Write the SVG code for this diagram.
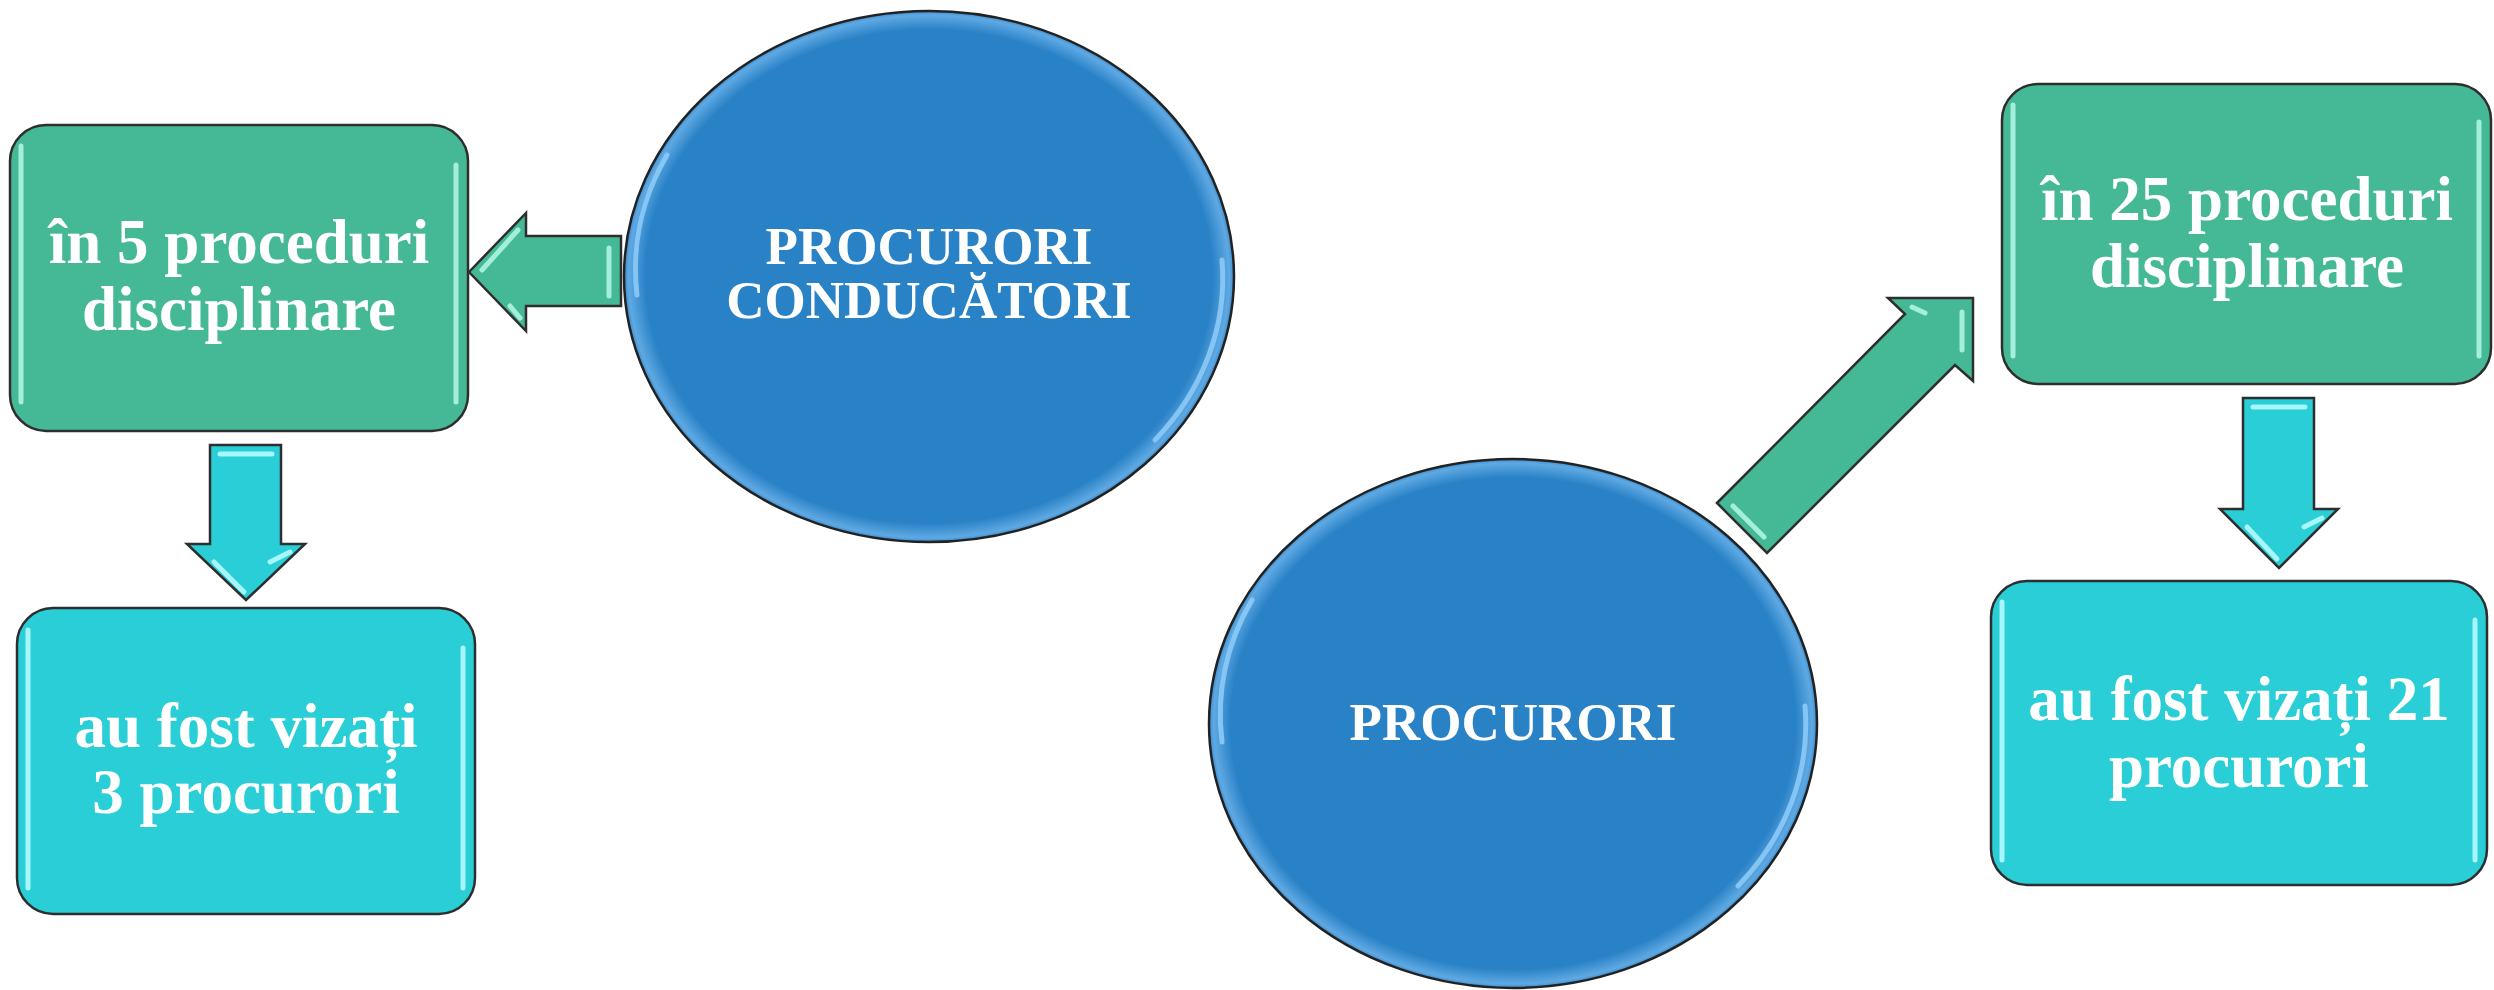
<svg xmlns="http://www.w3.org/2000/svg" width="2494" height="990" viewBox="0 0 2494 990">
<style>
.box{stroke:#2e2e2e;stroke-width:2.5}
.green{fill:#45b996}
.cyan{fill:#29ced6}
.oval{fill:url(#blueGrad);stroke:#222;stroke-width:2.5}
.arrG{fill:#45b996;stroke:#2e2e2e;stroke-width:2.5;stroke-linejoin:miter}
.arrC{fill:#29ced6;stroke:#2e2e2e;stroke-width:2.5;stroke-linejoin:miter}
.hlG{fill:none;stroke:#aef5e2;stroke-width:5;stroke-linecap:round;opacity:0.9}
.hlC{fill:none;stroke:#b4fbff;stroke-width:5;stroke-linecap:round;opacity:0.9}
.hlB{fill:none;stroke:#8ccaf7;stroke-width:5;stroke-linecap:round;opacity:0.9}
.t{font-family:"Liberation Serif","Times New Roman",serif;font-weight:bold;fill:#ffffff;text-anchor:middle}
.tb{font-size:63px}
.to{font-size:53px}
</style>
<defs>
<radialGradient id="blueGrad" cx="50%" cy="50%" r="50%">
<stop offset="0" stop-color="#2a82c6"/>
<stop offset="0.93" stop-color="#2a82c6"/>
<stop offset="0.985" stop-color="#5fa9e3"/>
<stop offset="1" stop-color="#3a8cce"/>
</radialGradient>
</defs>

<g id="connectors">
<g id="arrow-left">
<polygon class="arrG" points="469,272 526,213 526,236 621,236 621,306 526,306 526,331"/>
<path class="hlG" d="M609,248 L609,296"/>
<path class="hlG" d="M518,230 L482,270" stroke-width="3"/>
<path class="hlG" d="M520,318 L510,306" stroke-width="3"/>
</g>
<g id="arrow-down-left">
<polygon class="arrC" points="210,445 281,445 281,544 305,544 246,600 187,544 210,544"/>
<path class="hlC" d="M220,454 L272,454" stroke-width="4"/>
<path class="hlC" d="M214,562 L244,592" stroke-width="3"/>
<path class="hlC" d="M270,562 L290,552" stroke-width="3"/>
</g>
<g id="arrow-diagonal">
<polygon class="arrG" points="1717,503 1905,314 1888,298 1973,298 1973,381 1955,365 1767,553"/>
<path class="hlG" d="M1733,506 L1764,537" stroke-width="4"/>
<path class="hlG" d="M1962,312 L1962,350" stroke-width="4"/>
<path class="hlG" d="M1912,307 L1925,313" stroke-width="3"/>
</g>
<g id="arrow-down-right">
<polygon class="arrC" points="2243,398 2314,398 2314,509 2338,509 2279,568 2220,509 2243,509"/>
<path class="hlC" d="M2253,407 L2305,407" stroke-width="4"/>
<path class="hlC" d="M2247,527 L2277,559" stroke-width="3"/>
<path class="hlC" d="M2304,527 L2322,518" stroke-width="3"/>
</g>
</g>

<g id="node-box-5">
<rect class="box green" x="10" y="125" width="458" height="306" rx="36"/>
<path class="hlG" d="M21,146 L21,402"/>
<path class="hlG" d="M456,165 L456,402"/>
<text class="t tb" x="239" y="263">în 5 proceduri</text>
<text class="t tb" x="239" y="330">disciplinare</text>
</g>

<g id="node-box-3">
<rect class="box cyan" x="17" y="608" width="458" height="306" rx="36"/>
<path class="hlC" d="M28,630 L28,888"/>
<path class="hlC" d="M463,648 L463,888"/>
<text class="t tb" x="246" y="747">au fost vizați</text>
<text class="t tb" x="246" y="813">3 procurori</text>
</g>

<g id="node-oval-conducatori">
<ellipse class="oval" cx="929" cy="276.5" rx="305" ry="265.5"/>
<path class="hlB" d="M667,155 A293,253 0 0 0 637,295"/>
<path class="hlB" d="M1222,260 A293,253 0 0 1 1155,440"/>
<text class="t to" x="929" y="264">PROCURORI</text>
<text class="t to" x="929" y="318">CONDUCĂTORI</text>
</g>

<g id="node-oval-procurori">
<ellipse class="oval" cx="1513" cy="723.5" rx="304" ry="264.5"/>
<path class="hlB" d="M1252,600 A292,252 0 0 0 1222,742"/>
<path class="hlB" d="M1805,706 A292,252 0 0 1 1738,886"/>
<text class="t to" x="1513" y="740">PROCURORI</text>
</g>

<g id="node-box-25">
<rect class="box green" x="2002" y="84" width="489" height="300" rx="36"/>
<path class="hlG" d="M2013,105 L2013,356"/>
<path class="hlG" d="M2479,122 L2479,356"/>
<text class="t tb" x="2247" y="220">în 25 proceduri</text>
<text class="t tb" x="2247" y="287">disciplinare</text>
</g>

<g id="node-box-21">
<rect class="box cyan" x="1991" y="581" width="496" height="304" rx="36"/>
<path class="hlC" d="M2002,602 L2002,860"/>
<path class="hlC" d="M2475,620 L2475,860"/>
<text class="t tb" x="2239" y="720">au fost vizați 21</text>
<text class="t tb" x="2239" y="787">procurori</text>
</g>
</svg>
